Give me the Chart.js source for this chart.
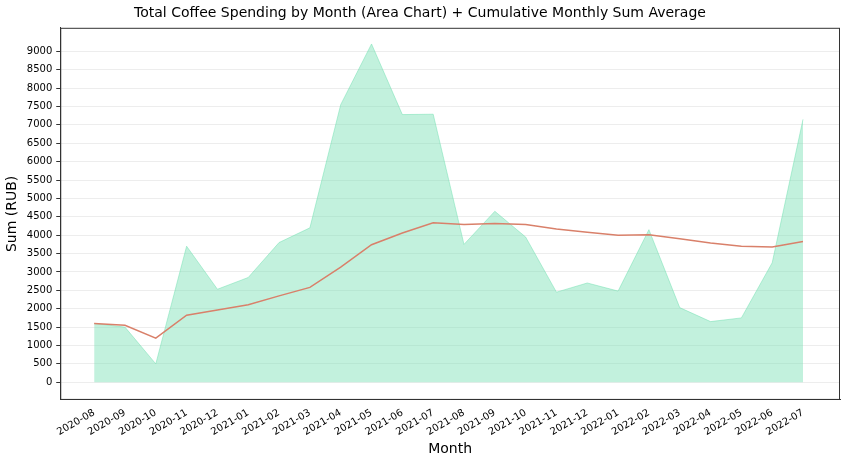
<!DOCTYPE html>
<html>
<head>
<meta charset="utf-8">
<script src="https://cdn.jsdelivr.net/npm/chart.js@4"></script>
<style>
  html, body { margin: 0; padding: 0; background: #fff; }
  #wrap { width: 846px; height: 466px; }
</style>
</head>
<body>
<div id="wrap"><canvas id="chart" width="846" height="466"></canvas></div>
<script>
// DATA
const months = ["2020-08","2020-09","2020-10","2020-11","2020-12","2021-01","2021-02","2021-03",
    "2021-04","2021-05","2021-06","2021-07","2021-08","2021-09","2021-10","2021-11","2021-12",
    "2022-01","2022-02","2022-03","2022-04","2022-05","2022-06","2022-07"];
const monthlySum = [1600, 1500, 500, 3700, 2530, 2850, 3800, 4200, 7550, 9200, 7280, 7290,
    3750, 4650, 3950, 2450, 2700, 2480, 4150, 2030, 1650, 1750, 3250, 7150];
const cumulativeAvg = [1600, 1550, 1200, 1825, 1966, 2110, 2350, 2580, 3130, 3740, 4060, 4340,
    4290, 4320, 4290, 4170, 4080, 4000, 4010, 3900, 3790, 3700, 3680, 3830];
const yTicks = [0,500,1000,1500,2000,2500,3000,3500,4000,4500,5000,5500,6000,6500,7000,7500,8000,8500,9000];

Chart.defaults.font.family = "DejaVu Sans";
Chart.defaults.color = "#000";

// frame around the plot area, like matplotlib spines
const frame = {
    id: "frame",
    afterDraw(chart) {
        const { ctx, chartArea: a } = chart;
        ctx.save();
        ctx.strokeStyle = "#333";
        ctx.lineWidth = 1;
        ctx.strokeRect(a.left + 0.5, a.top + 0.5, a.right - a.left - 1, a.bottom - a.top - 1);
        ctx.restore();
    }
};

new Chart(document.getElementById("chart"), {
    type: "line",
    data: {
        datasets: [
            {
                data: monthlySum.map((v, i) => ({ x: i, y: v })),
                fill: "origin",
                backgroundColor: "rgba(102,221,170,0.4)",
                borderColor: "rgba(102,221,170,0.45)",
                borderWidth: 1,
                pointRadius: 0,
                tension: 0,
                order: 2
            },
            {
                data: cumulativeAvg.map((v, i) => ({ x: i, y: v })),
                fill: false,
                borderColor: "#d9806a",
                borderWidth: 1.5,
                pointRadius: 0,
                tension: 0,
                order: 1
            }
        ]
    },
    options: {
        responsive: false,
        animation: false,
        layout: { padding: { left: 0, right: 6, top: 0, bottom: 4 } },
        plugins: {
            legend: { display: false },
            tooltip: { enabled: false },
            title: {
                display: true,
                text: "Total Coffee Spending by Month (Area Chart) + Cumulative Monthly Sum Average",
                font: { size: 14, weight: "normal" },
                padding: { top: 5, bottom: 6 }
            }
        },
        scales: {
            x: {
                type: "linear",
                min: -1.1,
                max: 24.2,
                afterBuildTicks: axis => { axis.ticks = months.map((m, i) => ({ value: i })); },
                ticks: {
                    autoSkip: false,
                    maxRotation: 30,
                    minRotation: 30,
                    font: { size: 10 },
                    callback: v => months[v]
                },
                grid: { display: false, drawTicks: true, tickLength: 4 },
                border: { color: "#333" },
                title: { display: true, text: "Month", font: { size: 14 }, padding: { top: 0 } }
            },
            y: {
                min: -480,
                max: 9640,
                afterBuildTicks: axis => { axis.ticks = yTicks.map(v => ({ value: v })); },
                ticks: { font: { size: 10 }, padding: 4, callback: v => String(v) },
                grid: { color: "rgba(0,0,0,0.07)", tickLength: 4, tickColor: "#333" },
                border: { color: "#333" },
                title: { display: true, text: "Sum (RUB)", font: { size: 14 }, padding: { bottom: 2 } }
            }
        }
    },
    plugins: [frame]
});
</script>
</body>
</html>
